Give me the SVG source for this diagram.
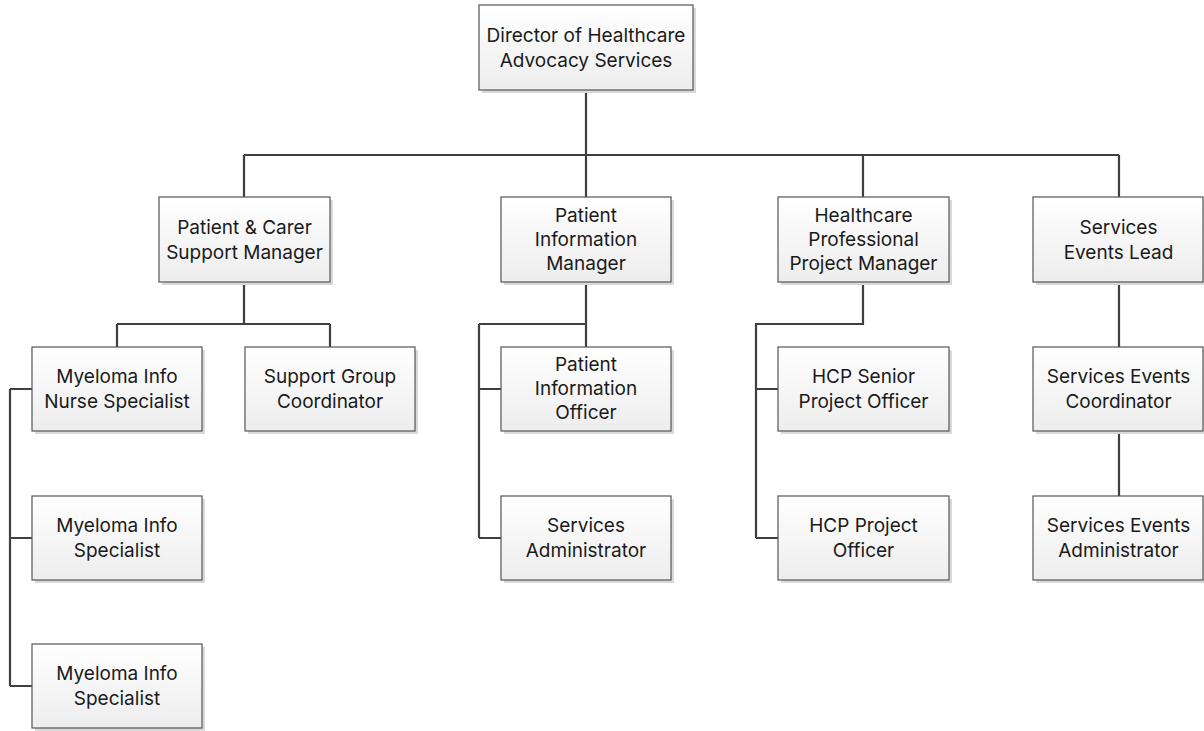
<svg xmlns="http://www.w3.org/2000/svg" width="1204" height="731" viewBox="0 0 1204 731">
<defs>
<linearGradient id="g" x1="0" y1="0" x2="0" y2="1">
<stop offset="0" stop-color="#ffffff"/>
<stop offset="1" stop-color="#ededed"/>
</linearGradient>
<style>
.sh{fill:#d9d9d9;}
.bx{fill:url(#g);stroke:#555555;stroke-width:1.2;}
.t{font-family:Inter,"Noto Sans","Liberation Sans",sans-serif;font-size:19px;fill:#1a1a1a;text-anchor:middle;}
.c{fill:none;stroke:#3f3f3f;stroke-width:2.2;}
</style>
</defs>
<rect width="1204" height="731" fill="#ffffff"/>
<g id="connectors">
<path class="c" d="M586 90V155M244 155H1119M244 155V197M586 155V197M863 155V197M1119 155V197"/>
<path class="c" d="M244 282V324M117 324H330M117 324V347M330 324V347"/>
<path class="c" d="M10 389V686M10 389H32M10 538H32M10 686H32"/>
<path class="c" d="M586 282V347M479 324H586M479 324V538M479 389H501M479 538H501"/>
<path class="c" d="M863 282V324H756V538M756 389H778M756 538H778"/>
<path class="c" d="M1119 282V347M1119 431V496"/>
</g>
<g id="director">
<rect class="sh" x="482" y="8" width="214" height="85"/>
<rect class="bx" x="479" y="5" width="214" height="85"/>
<text class="t" x="586" y="42">Director of Healthcare</text>
<text class="t" x="586" y="67">Advocacy Services</text>
</g>
<g id="pcsm">
<rect class="sh" x="162" y="200" width="171" height="85"/>
<rect class="bx" x="159" y="197" width="171" height="85"/>
<text class="t" x="244.5" y="234">Patient &amp; Carer</text>
<text class="t" x="244.5" y="259">Support Manager</text>
</g>
<g id="pim">
<rect class="sh" x="504" y="200" width="170" height="85"/>
<rect class="bx" x="501" y="197" width="170" height="85"/>
<text class="t" x="586" y="222">Patient</text>
<text class="t" x="586" y="246">Information</text>
<text class="t" x="586" y="270">Manager</text>
</g>
<g id="hcppm">
<rect class="sh" x="781" y="200" width="171" height="85"/>
<rect class="bx" x="778" y="197" width="171" height="85"/>
<text class="t" x="863.5" y="222">Healthcare</text>
<text class="t" x="863.5" y="246">Professional</text>
<text class="t" x="863.5" y="270">Project Manager</text>
</g>
<g id="sel">
<rect class="sh" x="1036" y="200" width="171" height="85"/>
<rect class="bx" x="1033" y="197" width="170" height="85"/>
<text class="t" x="1118.5" y="234">Services</text>
<text class="t" x="1118.5" y="259">Events Lead</text>
</g>
<g id="mins">
<rect class="sh" x="35" y="350" width="170" height="84"/>
<rect class="bx" x="32" y="347" width="170" height="84"/>
<text class="t" x="117" y="383">Myeloma Info</text>
<text class="t" x="117" y="408">Nurse Specialist</text>
</g>
<g id="sgc">
<rect class="sh" x="248" y="350" width="170" height="84"/>
<rect class="bx" x="245" y="347" width="170" height="84"/>
<text class="t" x="330" y="383">Support Group</text>
<text class="t" x="330" y="408">Coordinator</text>
</g>
<g id="pio">
<rect class="sh" x="504" y="350" width="170" height="84"/>
<rect class="bx" x="501" y="347" width="170" height="84"/>
<text class="t" x="586" y="371">Patient</text>
<text class="t" x="586" y="395">Information</text>
<text class="t" x="586" y="419">Officer</text>
</g>
<g id="hcpspo">
<rect class="sh" x="781" y="350" width="171" height="84"/>
<rect class="bx" x="778" y="347" width="171" height="84"/>
<text class="t" x="863.5" y="383">HCP Senior</text>
<text class="t" x="863.5" y="408">Project Officer</text>
</g>
<g id="sec">
<rect class="sh" x="1036" y="350" width="171" height="84"/>
<rect class="bx" x="1033" y="347" width="170" height="84"/>
<text class="t" x="1118.5" y="383">Services Events</text>
<text class="t" x="1118.5" y="408">Coordinator</text>
</g>
<g id="mis1">
<rect class="sh" x="35" y="499" width="170" height="84"/>
<rect class="bx" x="32" y="496" width="170" height="84"/>
<text class="t" x="117" y="532">Myeloma Info</text>
<text class="t" x="117" y="557">Specialist</text>
</g>
<g id="sa">
<rect class="sh" x="504" y="499" width="170" height="84"/>
<rect class="bx" x="501" y="496" width="170" height="84"/>
<text class="t" x="586" y="532">Services</text>
<text class="t" x="586" y="557">Administrator</text>
</g>
<g id="hcppo">
<rect class="sh" x="781" y="499" width="171" height="84"/>
<rect class="bx" x="778" y="496" width="171" height="84"/>
<text class="t" x="863.5" y="532">HCP Project</text>
<text class="t" x="863.5" y="557">Officer</text>
</g>
<g id="sea">
<rect class="sh" x="1036" y="499" width="171" height="84"/>
<rect class="bx" x="1033" y="496" width="170" height="84"/>
<text class="t" x="1118.5" y="532">Services Events</text>
<text class="t" x="1118.5" y="557">Administrator</text>
</g>
<g id="mis2">
<rect class="sh" x="35" y="647" width="170" height="84"/>
<rect class="bx" x="32" y="644" width="170" height="84"/>
<text class="t" x="117" y="680">Myeloma Info</text>
<text class="t" x="117" y="705">Specialist</text>
</g>
</svg>
